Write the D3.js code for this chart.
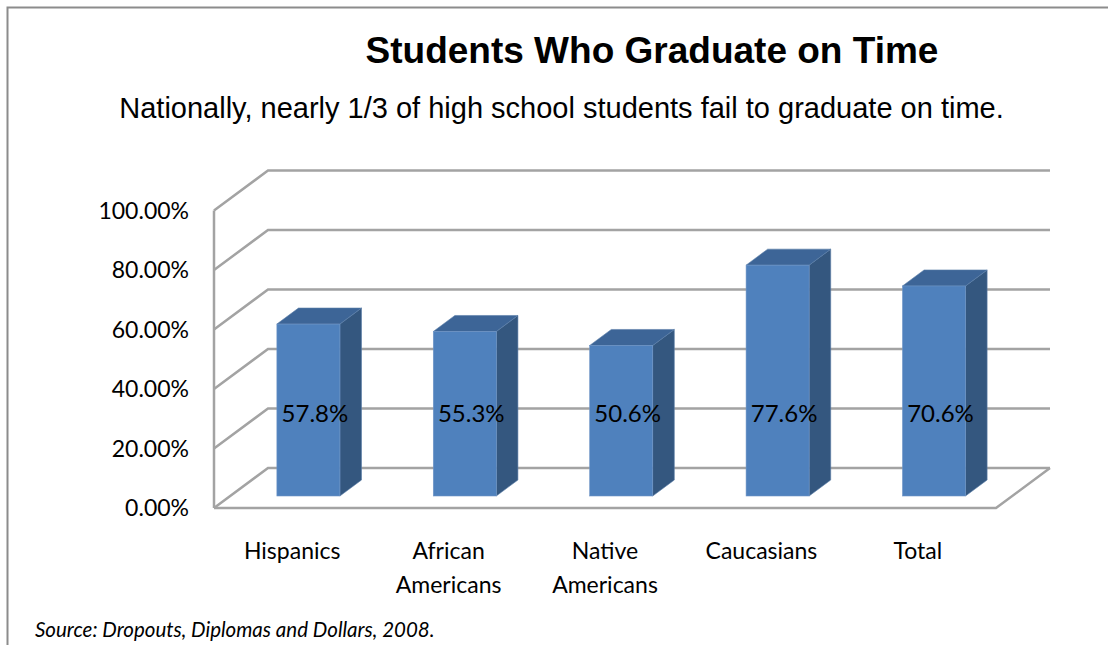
<!DOCTYPE html>
<html>
<head>
<meta charset="utf-8">
<script src="https://cdn.jsdelivr.net/npm/d3@7"></script>
<style>
  html, body { margin: 0; padding: 0; background: #fff; }
  svg { display: block; }
</style>
</head>
<body>
<svg id="chart" width="1108" height="645"></svg>
<script>
// ---- Data ----
const categories = ["Hispanics", "African Americans", "Native Americans", "Caucasians", "Total"];
const categoryLines = [["Hispanics"], ["African", "Americans"], ["Native", "Americans"], ["Caucasians"], ["Total"]];
const values = [57.8, 55.3, 50.6, 77.6, 70.6];
const valueLabels = ["57.8%", "55.3%", "50.6%", "77.6%", "70.6%"];
const yTicks = [0, 20, 40, 60, 80, 100];
const yTickLabels = ["0.00%", "20.00%", "40.00%", "60.00%", "80.00%", "100.00%"];
const titleText = "Students Who Graduate on Time";
const subtitleText = "Nationally, nearly 1/3 of high school students fail to graduate on time.";
const sourceText = "Source: Dropouts, Diplomas and Dollars, 2008.";

// ---- Layout ----
const svg = d3.select("#chart");
const floorFrontY = 508;
const floorLeft = 214, floorRight = 996;
const depthDX = 54, depthDY = -40;   // full depth of the floor
const barDepthStart = 0.3, barDepthSize = 0.4;
const gridColor = "#a3a3a3";

const x = d3.scaleBand().domain(categories).range([floorLeft, floorRight]).padding(0);
const h = d3.scaleLinear().domain([0, 100]).range([0, 297.5]); // vertical height
const barW = x.bandwidth() * 0.403;

// frame
svg.append("path")
  .attr("d", `M7.5,645 L7.5,7.5 L1108,7.5`)
  .attr("fill", "none").attr("stroke", "#8c8c8c").attr("stroke-width", 2);

// titles
svg.append("text").attr("x", 652).attr("y", 63).attr("text-anchor", "middle")
  .attr("font-family", "Liberation Sans, Arial, sans-serif").attr("font-weight", "bold")
  .attr("font-size", 37).attr("fill", "#000").text(titleText);
svg.append("text").attr("x", 561.5).attr("y", 118).attr("text-anchor", "middle")
  .attr("font-family", "Liberation Sans, Arial, sans-serif")
  .attr("font-size", 29).attr("fill", "#000").text(subtitleText);

const grid = svg.append("g").attr("fill", "none").attr("stroke", gridColor)
  .attr("stroke-width", 2.5).attr("stroke-linejoin", "miter");

// back wall gridlines + side wall diagonals
yTicks.forEach(t => {
  const yb = floorFrontY + depthDY - h(t);
  const yf = floorFrontY - h(t);
  grid.append("path").attr("d",
    `M${floorLeft},${yf} L${floorLeft + depthDX},${yb} L${floorRight + depthDX},${yb}`);
});
// side wall front vertical
grid.append("path").attr("d", `M${floorLeft},${floorFrontY - h(100)} L${floorLeft},${floorFrontY}`);
// floor front edge and right edge
grid.append("path").attr("d",
  `M${floorLeft},${floorFrontY} L${floorRight},${floorFrontY} L${floorRight + depthDX},${floorFrontY + depthDY}`);

// y-axis labels
svg.append("g").selectAll("text").data(yTicks).join("text")
  .attr("x", 189).attr("y", d => floorFrontY - h(d) + 8)
  .attr("text-anchor", "end")
  .attr("font-family", "Lato, Carlito, Calibri, sans-serif").attr("font-size", 23)
  .attr("fill", "#000")
  .text((d, i) => yTickLabels[i]);

// bars
const offX0 = depthDX * barDepthStart, offY0 = depthDY * barDepthStart;
const bdx = depthDX * barDepthSize, bdy = depthDY * barDepthSize;
const bars = svg.append("g");
categories.forEach((c, i) => {
  const x0 = x(c) + (x.bandwidth() - barW) / 2 + offX0;
  const x1 = x0 + barW;
  const y0 = floorFrontY + offY0;
  const yt = y0 - h(values[i]);
  const g = bars.append("g");
  // side
  g.append("path").attr("d",
    `M${x1},${y0} L${x1 + bdx},${y0 + bdy} L${x1 + bdx},${yt + bdy} L${x1},${yt} Z`)
    .attr("fill", "#34577f").attr("stroke", "#5a7da8").attr("stroke-width", 0.6);
  // top
  g.append("path").attr("d",
    `M${x0},${yt} L${x0 + bdx},${yt + bdy} L${x1 + bdx},${yt + bdy} L${x1},${yt} Z`)
    .attr("fill", "#3d6597").attr("stroke", "#5a7da8").attr("stroke-width", 0.6);
  // front
  g.append("rect").attr("x", x0).attr("y", yt).attr("width", barW).attr("height", h(values[i]))
    .attr("fill", "#4f81bd").attr("stroke", "#6f95c6").attr("stroke-width", 0.6);
  // value label
  g.append("text").attr("x", x0 + 38).attr("y", y0 - h(25))
    .attr("text-anchor", "middle")
    .attr("font-family", "Lato, Carlito, Calibri, sans-serif").attr("font-size", 24)
    .attr("fill", "#000").text(valueLabels[i]);
});

// category labels
const cat = svg.append("g");
categories.forEach((c, i) => {
  const t = cat.append("text")
    .attr("x", x(c) + x.bandwidth() / 2).attr("y", 559)
    .attr("text-anchor", "middle")
    .attr("font-family", "Lato, Carlito, Calibri, sans-serif").attr("font-size", 23)
    .attr("fill", "#000");
  categoryLines[i].forEach((ln, j) => {
    t.append("tspan").attr("x", x(c) + x.bandwidth() / 2).attr("dy", j === 0 ? 0 : 34).text(ln);
  });
});

// source
svg.append("text").attr("x", 35).attr("y", 637)
  .attr("font-family", "Lato, Carlito, Calibri, sans-serif").attr("font-style", "italic")
  .attr("font-size", 20.5).attr("fill", "#000").text(sourceText);
</script>
</body>
</html>
